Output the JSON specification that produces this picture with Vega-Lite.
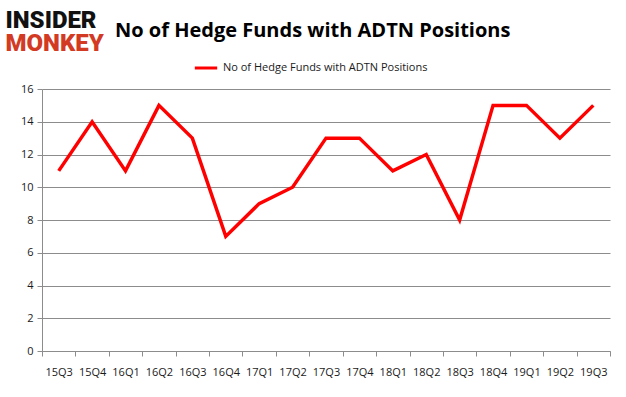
{
  "$schema": "https://vega.github.io/schema/vega-lite/v6.json",
  "autosize": "none",
  "width": 568,
  "height": 262,
  "padding": {"left": 42, "top": 89, "right": 16, "bottom": 46},
  "background": "white",
  "title": {
    "text": "No of Hedge Funds with ADTN Positions",
    "font": "Open Sans",
    "fontSize": 20,
    "fontWeight": "bold",
    "color": "#000000",
    "anchor": "start",
    "dx": 110,
    "offset": 0,
    "dy": 33
  },
  "data": {
    "values": [
      {"q": "15Q3", "v": 11, "s": "No of Hedge Funds with ADTN Positions"},
      {"q": "15Q4", "v": 14, "s": "No of Hedge Funds with ADTN Positions"},
      {"q": "16Q1", "v": 11, "s": "No of Hedge Funds with ADTN Positions"},
      {"q": "16Q2", "v": 15, "s": "No of Hedge Funds with ADTN Positions"},
      {"q": "16Q3", "v": 13, "s": "No of Hedge Funds with ADTN Positions"},
      {"q": "16Q4", "v": 7, "s": "No of Hedge Funds with ADTN Positions"},
      {"q": "17Q1", "v": 9, "s": "No of Hedge Funds with ADTN Positions"},
      {"q": "17Q2", "v": 10, "s": "No of Hedge Funds with ADTN Positions"},
      {"q": "17Q3", "v": 13, "s": "No of Hedge Funds with ADTN Positions"},
      {"q": "17Q4", "v": 13, "s": "No of Hedge Funds with ADTN Positions"},
      {"q": "18Q1", "v": 11, "s": "No of Hedge Funds with ADTN Positions"},
      {"q": "18Q2", "v": 12, "s": "No of Hedge Funds with ADTN Positions"},
      {"q": "18Q3", "v": 8, "s": "No of Hedge Funds with ADTN Positions"},
      {"q": "18Q4", "v": 15, "s": "No of Hedge Funds with ADTN Positions"},
      {"q": "19Q1", "v": 15, "s": "No of Hedge Funds with ADTN Positions"},
      {"q": "19Q2", "v": 13, "s": "No of Hedge Funds with ADTN Positions"},
      {"q": "19Q3", "v": 15, "s": "No of Hedge Funds with ADTN Positions"}
    ]
  },
  "mark": {"type": "line", "strokeWidth": 3.5, "strokeJoin": "miter"},
  "encoding": {
    "x": {
      "field": "q",
      "type": "nominal",
      "sort": null,
      "scale": {"paddingInner": 0, "paddingOuter": 0},
      "axis": {
        "title": "MONKEY",
        "titleFont": "Roboto",
        "titleFontSize": 24,
        "titleFontWeight": 900,
        "titleColor": "#D33A24",
        "titleAlign": "left",
        "titleAnchor": null,
        "titleBaseline": "alphabetic",
        "titleX": -37,
        "titleY": -301,
        "labelAngle": 0,
        "labelFont": "Open Sans",
        "labelFontSize": 11,
        "labelColor": "#1a1a1a",
        "labelPadding": 10,
        "domainColor": "#8c8c8c",
        "tickColor": "#8c8c8c",
        "tickSize": 5,
        "tickBand": "extent",
        "grid": false
      }
    },
    "y": {
      "field": "v",
      "type": "quantitative",
      "scale": {"domain": [0, 16], "nice": false},
      "axis": {
        "values": [0, 2, 4, 6, 8, 10, 12, 14, 16],
        "title": "INSIDER",
        "titleFont": "Roboto",
        "titleFontSize": 24,
        "titleFontWeight": 900,
        "titleColor": "#111111",
        "titleAngle": 0,
        "titleAlign": "left",
        "titleAnchor": null,
        "titleBaseline": "alphabetic",
        "titleX": -37,
        "titleY": -62,
        "labelFont": "Open Sans",
        "labelFontSize": 11,
        "labelColor": "#1a1a1a",
        "labelPadding": 4,
        "domainColor": "#8c8c8c",
        "tickColor": "#8c8c8c",
        "tickSize": 5,
        "gridColor": "#8c8c8c",
        "gridWidth": 1
      }
    },
    "color": {
      "field": "s",
      "type": "nominal",
      "scale": {"range": ["#FF0000"]},
      "legend": {
        "title": null,
        "orient": "none",
        "legendX": 151,
        "legendY": -34,
        "symbolType": "stroke",
        "symbolStrokeWidth": 3,
        "symbolSize": 500,
        "labelFont": "Open Sans",
        "labelFontSize": 11,
        "labelLimit": 0,
        "labelColor": "#1a1a1a"
      }
    }
  },
  "config": {
    "view": {"stroke": null}
  }
}
